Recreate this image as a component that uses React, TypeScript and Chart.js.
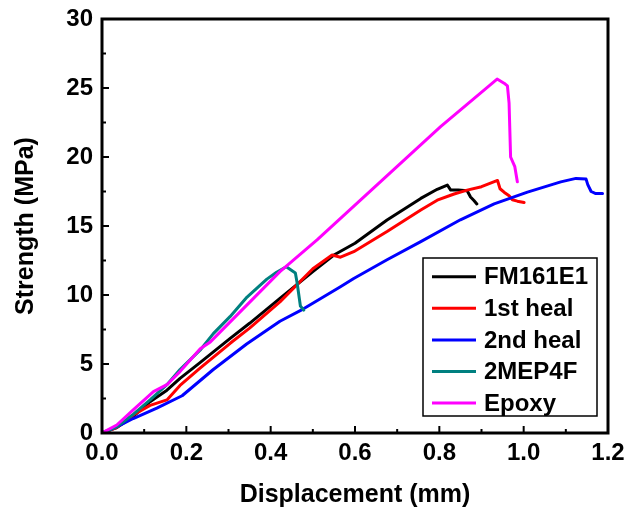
import React, { useEffect, useRef } from "react";
import { Chart, registerables } from "chart.js";

Chart.register(...registerables);

// ---- Data ----
const fm161e1X = [0, 0.035, 0.074, 0.114, 0.154, 0.185, 0.2325, 0.304, 0.35, 0.422, 0.5, 0.55, 0.6, 0.676, 0.756, 0.795, 0.819, 0.827, 0.845, 0.866, 0.874, 0.882, 0.889];
const fm161e1Y = [0, 0.4, 1.2, 2.27, 3.1, 3.96, 5.1, 6.86, 7.95, 9.76, 11.7, 12.9, 13.75, 15.43, 17.0, 17.66, 17.97, 17.6, 17.6, 17.55, 17.1, 16.85, 16.6];

const heal1X = [0, 0.035, 0.074, 0.114, 0.154, 0.185, 0.2325, 0.304, 0.35, 0.422, 0.5, 0.5457, 0.5655, 0.597, 0.676, 0.756, 0.795, 0.835, 0.866, 0.9, 0.938, 0.944, 0.9535, 0.9654, 0.9733, 0.985, 1.001];
const heal1Y = [0, 0.4, 1.3, 2.0, 2.4, 3.45, 4.7, 6.5, 7.6, 9.5, 11.9, 12.9, 12.74, 13.14, 14.6, 16.16, 16.87, 17.32, 17.6, 17.85, 18.3, 17.7, 17.45, 17.2, 16.9, 16.8, 16.7];

const heal2X = [0, 0.035, 0.074, 0.13, 0.19, 0.264, 0.343, 0.422, 0.478, 0.5655, 0.597, 0.676, 0.756, 0.85, 0.93, 1.009, 1.088, 1.124, 1.148, 1.152, 1.16, 1.171, 1.187];
const heal2Y = [0, 0.45, 1.05, 1.8, 2.7, 4.6, 6.45, 8.1, 9.0, 10.6, 11.2, 12.55, 13.87, 15.45, 16.6, 17.45, 18.2, 18.45, 18.4, 18.0, 17.5, 17.35, 17.35];

const mep4fX = [0, 0.035, 0.074, 0.114, 0.154, 0.185, 0.2325, 0.264, 0.3036, 0.344, 0.391, 0.414, 0.437, 0.4586, 0.4626, 0.4705, 0.4784];
const mep4fY = [0, 0.45, 1.35, 2.4, 3.5, 4.6, 6.0, 7.2, 8.43, 9.85, 11.15, 11.65, 12.05, 11.6, 10.9, 9.2, 8.9];

const epoxyX = [0, 0.035, 0.074, 0.122, 0.154, 0.185, 0.233, 0.257, 0.422, 0.51, 0.803, 0.937, 0.9535, 0.9615, 0.9654, 0.969, 0.979, 0.985];
const epoxyY = [0, 0.58, 1.67, 3.0, 3.5, 4.45, 6.1, 6.6, 11.69, 14.0, 22.2, 25.65, 25.35, 25.15, 23.9, 20.0, 19.3, 18.2];

const seriesLabels = ["FM161E1", "1st heal", "2nd heal", "2MEP4F", "Epoxy"];
const seriesColors = ["#000000", "#ff0000", "#0000ff", "#008080", "#ff00ff"];
const seriesX = [fm161e1X, heal1X, heal2X, mep4fX, epoxyX];
const seriesY = [fm161e1Y, heal1Y, heal2Y, mep4fY, epoxyY];

const xTickLabels = ["0.0", "0.2", "0.4", "0.6", "0.8", "1.0", "1.2"];
const yTickValues = [0, 5, 10, 15, 20, 25, 30];

const FONT = "'Liberation Sans', Arial, sans-serif";

const framePlugin = {
  id: "frameTicks",
  afterDatasetsDraw(chart: any) {
    const { ctx, chartArea } = chart;
    const xs = chart.scales.x;
    const ys = chart.scales.y;
    ctx.save();
    ctx.strokeStyle = "#000";
    ctx.lineWidth = 2;
    for (let i = 0; i <= 12; i++) {
      const v = i * 0.1;
      const px = xs.getPixelForValue(v);
      const len = i % 2 === 0 ? 7 : 4;
      ctx.beginPath();
      ctx.moveTo(px, chartArea.bottom);
      ctx.lineTo(px, chartArea.bottom - len);
      ctx.stroke();
    }
    for (let i = 0; i <= 12; i++) {
      const v = i * 2.5;
      const py = ys.getPixelForValue(v);
      const len = i % 2 === 0 ? 7 : 4;
      ctx.beginPath();
      ctx.moveTo(chartArea.left, py);
      ctx.lineTo(chartArea.left + len, py);
      ctx.stroke();
    }
    ctx.lineWidth = 3;
    ctx.strokeRect(chartArea.left, chartArea.top, chartArea.right - chartArea.left, chartArea.bottom - chartArea.top);
    ctx.restore();
  },
};

const legendPlugin = {
  id: "insideLegend",
  afterDraw(chart: any) {
    const { ctx, chartArea } = chart;
    const w = 174;
    const h = 158;
    const left = chartArea.right - 11 - w;
    const top = chartArea.bottom - 17 - h;
    ctx.save();
    ctx.fillStyle = "#fff";
    ctx.fillRect(left, top, w, h);
    ctx.strokeStyle = "#000";
    ctx.lineWidth = 1.5;
    ctx.strokeRect(left, top, w, h);
    ctx.font = `bold 24px ${FONT}`;
    ctx.textBaseline = "middle";
    ctx.textAlign = "left";
    chart.data.datasets.forEach((ds: any, i: number) => {
      const y = top + 18.7 + i * 31.6;
      ctx.strokeStyle = ds.borderColor;
      ctx.lineWidth = 3;
      ctx.beginPath();
      ctx.moveTo(left + 9, y);
      ctx.lineTo(left + 53, y);
      ctx.stroke();
      ctx.fillStyle = "#000";
      ctx.fillText(ds.label, left + 61, y + 1);
    });
    ctx.restore();
  },
};

export default function App() {
  const canvasRef = useRef<HTMLCanvasElement | null>(null);

  useEffect(() => {
    if (!canvasRef.current) return;
    const datasets = seriesLabels.map((label, i) => ({
      label,
      data: seriesX[i].map((x, j) => ({ x, y: seriesY[i][j] })),
      borderColor: seriesColors[i],
      backgroundColor: seriesColors[i],
      borderWidth: 3,
      pointRadius: 0,
      tension: 0,
      fill: false,
      showLine: true,
      borderJoinStyle: "round" as const,
      borderCapStyle: "round" as const,
      order: seriesLabels.length - i,
    }));

    const chart = new Chart(canvasRef.current, {
      type: "scatter",
      data: { datasets },
      options: {
        animation: false,
        responsive: false,
        maintainAspectRatio: false,
        layout: { padding: { left: 0, right: 17, top: 19, bottom: 0 } },
        plugins: {
          legend: { display: false },
          tooltip: { enabled: false },
        },
        scales: {
          x: {
            type: "linear",
            min: 0,
            max: 1.2,
            grid: { display: false, drawTicks: false },
            border: { display: false },
            afterFit: (scale: any) => {
              scale.height = 78;
              scale.paddingLeft = 0;
              scale.paddingRight = 0;
            },
            ticks: {
              stepSize: 0.2,
              autoSkip: false,
              maxRotation: 0,
              padding: 6,
              color: "#000",
              font: { family: FONT, size: 24, weight: "bold" },
              callback: (v: any) => {
                const idx = Math.round(Number(v) / 0.2);
                return xTickLabels[idx] ?? "";
              },
            },
            title: {
              display: true,
              text: "Displacement (mm)",
              color: "#000",
              font: { family: FONT, size: 25, weight: "bold", lineHeight: 1.2 },
              padding: { top: 0, bottom: 1 },
            },
          },
          y: {
            type: "linear",
            min: 0,
            max: 30,
            grid: { display: false, drawTicks: false },
            border: { display: false },
            afterFit: (scale: any) => {
              scale.width = 102;
              scale.paddingTop = 0;
              scale.paddingBottom = 0;
            },
            afterBuildTicks: (scale: any) => {
              scale.ticks = yTickValues.map((v) => ({ value: v }));
            },
            ticks: {
              padding: 9,
              color: "#000",
              font: { family: FONT, size: 24, weight: "bold" },
              callback: (v: any) => String(v),
            },
            title: {
              display: true,
              text: "Strength (MPa)",
              color: "#000",
              font: { family: FONT, size: 25, weight: "bold", lineHeight: 1.2 },
              padding: { top: 11, bottom: 0 },
            },
          },
        },
      },
      plugins: [framePlugin, legendPlugin],
    });

    return () => {
      chart.destroy();
    };
  }, []);

  return (
    <div style={{ position: "fixed", left: 0, top: 0, width: 625, height: 511, background: "#fff" }}>
      <canvas ref={canvasRef} width={625} height={511} style={{ display: "block" }} />
    </div>
  );
}
